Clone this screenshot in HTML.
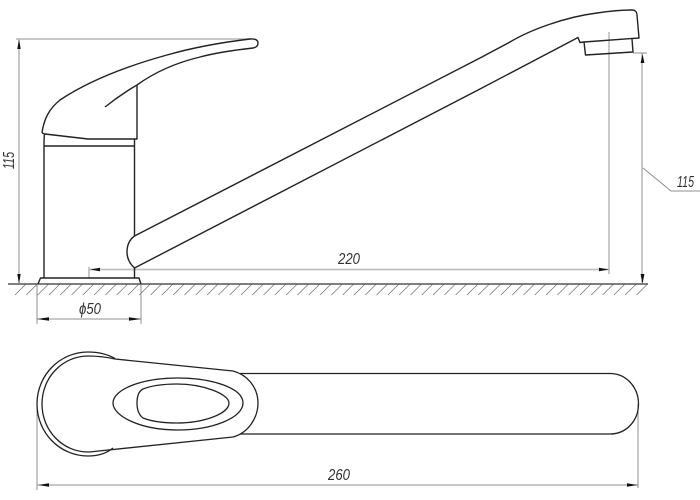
<!DOCTYPE html>
<html><head><meta charset="utf-8"><style>
html,body{margin:0;padding:0;background:#fff;width:700px;height:500px;overflow:hidden}
svg{display:block}
text{font-family:"Liberation Sans",sans-serif;font-style:italic;font-size:16px;fill:#333}
</style></head><body>
<svg width="700" height="500" viewBox="0 0 700 500" xmlns="http://www.w3.org/2000/svg">
<!-- hatch -->
<g stroke="#777" stroke-width=".8" fill="none">
<path d="M15 295l11-11M26.3 295l11-11M37.6 295l11-11M48.9 295l11-11M60.2 295l11-11M71.5 295l11-11M82.8 295l11-11M94.1 295l11-11M105.4 295l11-11M116.7 295l11-11M128 295l11-11M139.3 295l11-11M150.6 295l11-11M161.9 295l11-11M173.2 295l11-11M184.5 295l11-11M195.8 295l11-11M207.1 295l11-11M218.4 295l11-11M229.7 295l11-11M241 295l11-11M252.3 295l11-11M263.6 295l11-11M274.9 295l11-11M286.2 295l11-11M297.5 295l11-11M308.8 295l11-11M320.1 295l11-11M331.4 295l11-11M342.7 295l11-11M354 295l11-11M365.3 295l11-11M376.6 295l11-11M387.9 295l11-11M399.2 295l11-11M410.5 295l11-11M421.8 295l11-11M433.1 295l11-11M444.4 295l11-11M455.7 295l11-11M467 295l11-11M478.3 295l11-11M489.6 295l11-11M500.9 295l11-11M512.2 295l11-11M523.5 295l11-11M534.8 295l11-11M546.1 295l11-11M557.4 295l11-11M568.7 295l11-11M580 295l11-11M591.3 295l11-11M602.6 295l11-11M613.9 295l11-11M625.2 295l11-11M636.5 295l11-11"/>
</g>
<path d="M8 284H648" stroke="#555" stroke-width="1.6" fill="none"/>
<!-- dimension lines -->
<g stroke="#8f8f8f" fill="none" stroke-width="1">
<path d="M19 40V284"/>
<path d="M642 53V284"/>
<path d="M633 53H647"/>
<path d="M643 168L671 191H700"/>
<path d="M37 285V324M141 285V324M37 319H141"/>
<path d="M37 404V490M638 404V488M37 485H638"/>
<path d="M89 267V278"/>
</g>
<g stroke="#c0c0c0" fill="none" stroke-width="1.7">
<path d="M16 39H250"/>
<path d="M609 32V274"/>
<path d="M89 269.5H609"/>
</g>
<!-- arrowheads -->
<g fill="#111" stroke="none">
<path d="M19 39l-1.700 10h3.400z"/>
<path d="M19 284l-1.700-10h3.400z"/>
<path d="M642.500 54l-1.900 9h3.800z"/>
<path d="M642.500 284l-1.900-10h3.800z"/>
<path d="M90 269.500l10-1.700v3.400z"/>
<path d="M609 269.500l-10-1.700v3.400z"/>
<path d="M37 319l12-1.700v3.400z"/>
<path d="M141 319l-12-1.700v3.400z"/>
<path d="M38 485l11-1.700v3.400z"/>
<path d="M638 485l-11-1.700v3.400z"/>
</g>
<!-- faucet side -->
<g fill="none" stroke="#222" stroke-width="1.4" stroke-linejoin="round">
<path d="M42 133C44 118 50 108 60 100C84 84 120 68 167 55C195 47 225 42 250 39C255 38.500 258 40 258 43C258 46 256 47.500 253 48C235 50 215 53 200 57C175 63 155 72 137 85C125 92 115 99 105 107"/>
<path d="M137 85V139H88L45 134L42 133"/>
<path d="M44.500 134C44 137 44 140 44 146V278M44 146H134M134.500 139V236M134.500 268V278"/>
<path d="M38 284L40.500 278H139L141 284"/>
<path d="M134.500 236C129 240 127 246 127 252C127 259 130 264 134.500 268"/>
<path d="M134.500 236L480 58L510 42C530 30 565 17 597 13C610 11 622 10 632 10C636 10 637 13 637 15L639 38L584 42L580 42.500L578 37.500L480 89L134.500 268"/>
<path d="M584 42L585.500 55L633 52L632 39"/>
</g>
<!-- top view -->
<g fill="none" stroke="#222" stroke-width="1.3" stroke-linejoin="round">
<path d="M115 358.500C107 354 98 352 88 352C60 352 37 375 37 404C37 433 60 456 88 456C98 456 107 453 113 448"/>
<path d="M115 359C106 357 97 356 88 356C63 356 42 377 42 404C42 431 63 452 88 452C90 452 92 451.800 94 451.500"/>
<path d="M115 359L233 371C248 375 258 388 258 403C258 418 248 433 233 437L94 451.500"/>
<path d="M240 373.500H610C626 373.500 638.500 387 638.500 404C638.500 421 626 434 610 434H240"/>
<path d="M113 403C113 390 140 378 178 378C212 378 243 388 243 403C243 418 212 430 178 430C140 430 113 416 113 403Z"/>
<path d="M137 403C137 396 139 391 143 389C152 385.500 165 384 177 384C203 384 229 394 229 403C229 414 203 423 177 423C165 423 152 421.500 143 418C139 415 137 410 137 403Z"/>
</g>
<!-- labels -->
<text transform="translate(14 169) rotate(-90)" textLength="17" lengthAdjust="spacingAndGlyphs">115</text>
<text x="677" y="187" textLength="17" lengthAdjust="spacingAndGlyphs">115</text>
<text x="338" y="264" textLength="22" lengthAdjust="spacingAndGlyphs">220</text>
<text x="79" y="314" textLength="22" lengthAdjust="spacingAndGlyphs">ϕ50</text>
<text x="328" y="480" textLength="22" lengthAdjust="spacingAndGlyphs">260</text>
</svg>
</body></html>
